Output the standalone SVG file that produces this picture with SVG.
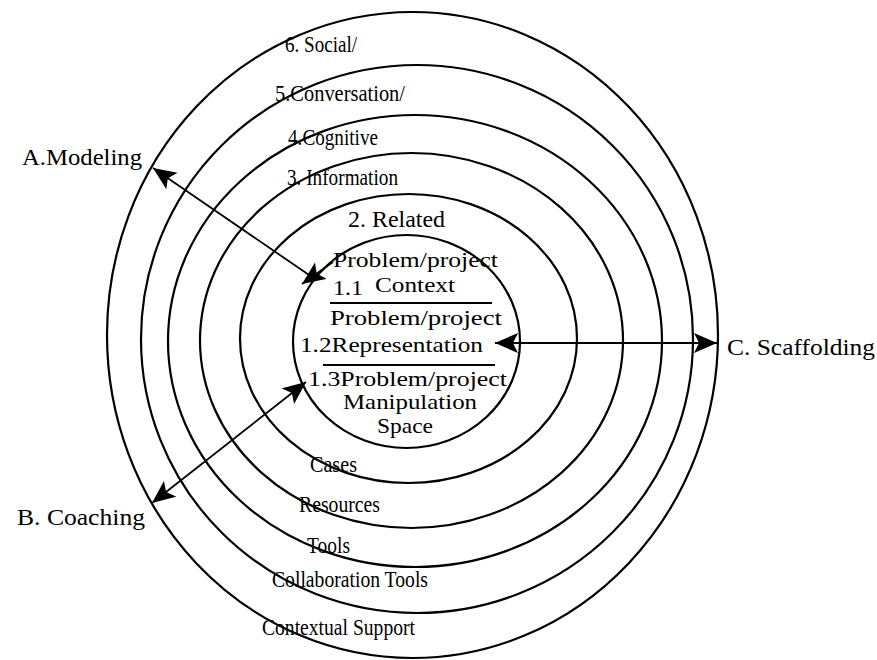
<svg xmlns="http://www.w3.org/2000/svg" width="877" height="660" viewBox="0 0 877 660">
<defs>
<style>
.ring{fill:none;stroke:#000;stroke-width:2.2}
.t{font-family:"Liberation Serif","Times New Roman",serif;font-size:23px;fill:#000}
.in{font-size:21px}
.div{stroke:#000;stroke-width:1.8}
.con{stroke:#000;stroke-width:1.8;fill:none}
</style>
<marker id="ah" markerUnits="userSpaceOnUse" markerWidth="26" markerHeight="22" refX="23" refY="10" orient="auto-start-reverse">
<path d="M0,0 L23,10 L0,20 L5,10 z" fill="#000"/>
</marker>
</defs>
<rect width="877" height="660" fill="#fff"/>
<g id="ring6"><ellipse class="ring" cx="412.5" cy="335" rx="305.5" ry="323"/><text class="t" x="285" y="52" textLength="72" lengthAdjust="spacingAndGlyphs">6. Social/</text><text class="t" x="262" y="635" textLength="153" lengthAdjust="spacingAndGlyphs">Contextual Support</text></g>
<g id="ring5"><ellipse class="ring" cx="417" cy="339" rx="276" ry="274"/><text class="t" x="275" y="101" textLength="130" lengthAdjust="spacingAndGlyphs">5.Conversation/</text><text class="t" x="272" y="587" textLength="156" lengthAdjust="spacingAndGlyphs">Collaboration Tools</text></g>
<g id="ring4"><ellipse class="ring" cx="415" cy="341" rx="247" ry="226"/><text class="t" x="288" y="145" textLength="90" lengthAdjust="spacingAndGlyphs">4.Cognitive</text><text class="t" x="307" y="553" textLength="43" lengthAdjust="spacingAndGlyphs">Tools</text></g>
<g id="ring3"><ellipse class="ring" cx="411.5" cy="340.5" rx="211.5" ry="187.5"/><text class="t" x="287" y="185" textLength="111" lengthAdjust="spacingAndGlyphs">3. Information</text><text class="t" x="299" y="512" textLength="81" lengthAdjust="spacingAndGlyphs">Resources</text></g>
<g id="ring2"><ellipse class="ring" cx="408.5" cy="338.5" rx="168.5" ry="144.5"/><text class="t" x="348" y="227" textLength="97" lengthAdjust="spacingAndGlyphs">2. Related</text><text class="t" x="310" y="472" textLength="47" lengthAdjust="spacingAndGlyphs">Cases</text></g>
<g id="ring1"><ellipse class="ring" cx="406.5" cy="341.5" rx="113.5" ry="106.5"/>
<text class="t in" x="333" y="267" textLength="165" lengthAdjust="spacingAndGlyphs">Problem/project</text>
<text class="t in" x="333" y="295" textLength="30" lengthAdjust="spacingAndGlyphs">1.1</text>
<text class="t in" x="375" y="292" textLength="80" lengthAdjust="spacingAndGlyphs">Context</text>
<line class="div" x1="330" y1="303" x2="492" y2="303"/>
<text class="t in" x="330" y="325" textLength="172" lengthAdjust="spacingAndGlyphs">Problem/project</text>
<text class="t in" x="300" y="352" textLength="183" lengthAdjust="spacingAndGlyphs">1.2Representation</text>
<line class="div" x1="323" y1="365" x2="495" y2="365"/>
<text class="t in" x="308" y="386" textLength="199" lengthAdjust="spacingAndGlyphs">1.3Problem/project</text>
<text class="t in" x="343" y="409" textLength="134" lengthAdjust="spacingAndGlyphs">Manipulation</text>
<text class="t in" x="377" y="433" textLength="56" lengthAdjust="spacingAndGlyphs">Space</text>
</g>
<g id="modeling"><text class="t" x="22" y="165" textLength="120" lengthAdjust="spacingAndGlyphs">A.Modeling</text></g>
<g id="coaching"><text class="t" x="17" y="525" textLength="128" lengthAdjust="spacingAndGlyphs">B. Coaching</text></g>
<g id="scaffolding"><text class="t" x="727" y="355" textLength="148" lengthAdjust="spacingAndGlyphs">C. Scaffolding</text></g>
<g id="connectors">
<path class="con" d="M153,168 L312,277" marker-start="url(#ah)"/>
<path class="con" d="M333,262 L302,284" marker-end="url(#ah)"/>
<path class="con" d="M152,503 L306,382" marker-start="url(#ah)" marker-end="url(#ah)"/>
<path class="con" d="M495,343 L717,343" marker-start="url(#ah)" marker-end="url(#ah)"/>
</g>
</svg>
